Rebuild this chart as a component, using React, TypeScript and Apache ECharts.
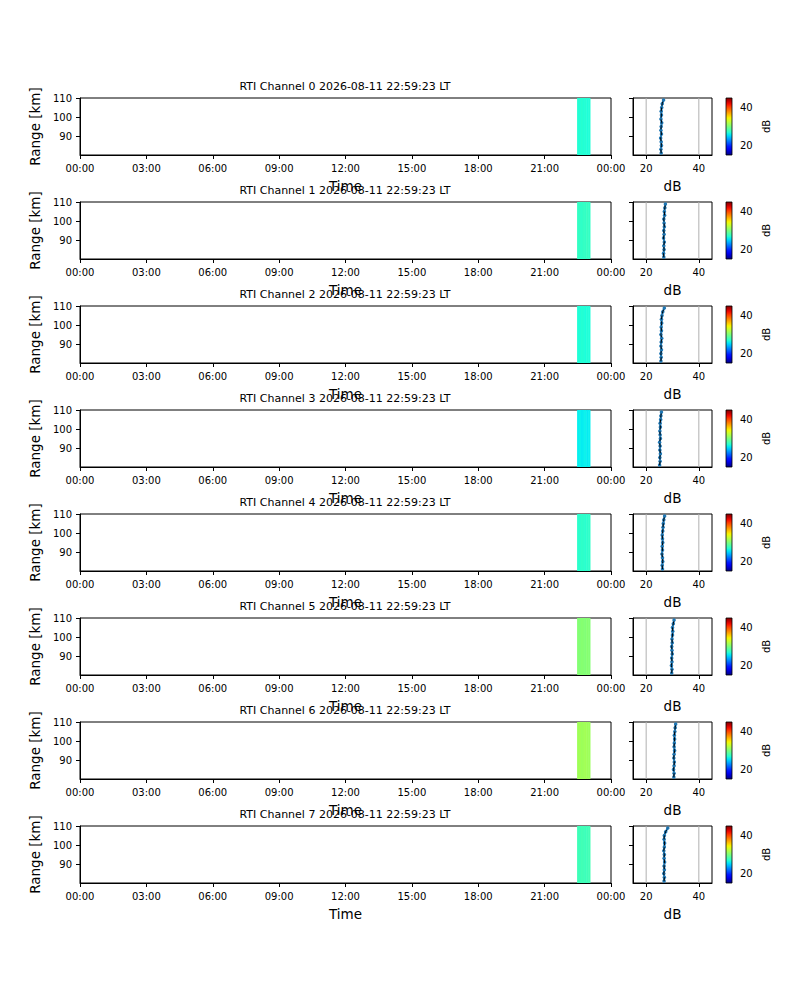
import React, { useEffect, useRef } from 'react';
import * as echarts from 'echarts';

// --- data ---
const channels = [0, 1, 2, 3, 4, 5, 6, 7];
const stamp = '2026-08-11 22:59:23 LT';

const timeTicks = [0, 3, 6, 9, 12, 15, 18, 21, 24];
const rangeTicks = [90, 100, 110];
const dbTicks = [20, 40];
const dbGrid = [20, 40];

// RTI columns (start time, 5 min each)
const timeCols = ['22:28', '22:33', '22:38', '22:43', '22:48', '22:53', '22:58'];
const binMinutes = 5;

const rti0 = [26.8, 26.7, 26.9, 26.7, 26.8, 26.6, 26.7];
const rti1 = [27.4, 27.3, 27.2, 27.4, 27.3, 27.5, 27.3];
const rti2 = [26.7, 26.6, 26.8, 26.7, 26.5, 26.7, 26.6];
const rti3 = [25.8, 25.9, 25.7, 25.8, 25.9, 25.7, 25.8];
const rti4 = [27.1, 27.0, 27.2, 27.1, 27.0, 27.1, 27.2];
const rti5 = [30.3, 30.2, 30.4, 30.3, 30.2, 30.4, 30.3];
const rti6 = [31.3, 31.4, 31.2, 31.3, 31.4, 31.3, 31.2];
const rti7 = [27.8, 27.7, 27.9, 27.8, 27.7, 27.8, 27.9];
const rtiAll = [rti0, rti1, rti2, rti3, rti4, rti5, rti6, rti7];

// side profiles (dB vs range)
const rangeKm = [81, 83, 85, 87, 89, 91, 93, 95, 97, 99, 101, 103, 105, 107, 109];
const profile0 = [25.7, 25.6, 25.8, 25.7, 25.5, 25.8, 25.6, 25.7, 25.9, 25.6, 25.8, 25.7, 25.9, 26.1, 26.6];
const profile1 = [26.7, 26.6, 26.8, 26.7, 26.9, 26.6, 26.8, 26.7, 26.9, 26.8, 26.7, 27.0, 26.9, 27.1, 27.3];
const profile2 = [25.6, 25.7, 25.6, 25.8, 25.6, 25.7, 25.9, 25.6, 25.8, 25.7, 25.9, 25.8, 26.0, 26.3, 26.9];
const profile3 = [25.1, 25.3, 25.2, 25.4, 25.2, 25.3, 25.1, 25.4, 25.3, 25.2, 25.4, 25.3, 25.5, 25.6, 25.8];
const profile4 = [26.2, 26.1, 26.3, 26.2, 26.0, 26.2, 26.1, 26.3, 26.2, 26.1, 26.3, 26.4, 26.5, 26.7, 27.0];
const profile5 = [29.7, 29.8, 29.6, 29.8, 29.7, 29.9, 29.8, 29.7, 29.9, 29.8, 30.0, 30.1, 30.0, 30.3, 30.6];
const profile6 = [30.5, 30.6, 30.4, 30.6, 30.7, 30.5, 30.6, 30.8, 30.6, 30.7, 30.8, 30.7, 30.9, 31.0, 31.2];
const profile7 = [26.8, 26.9, 26.7, 26.9, 26.8, 27.0, 26.8, 26.9, 26.7, 26.9, 27.0, 26.8, 26.9, 27.4, 28.2];
const profileAll = [profile0, profile1, profile2, profile3, profile4, profile5, profile6, profile7];

const DB_MIN = 15;
const DB_MAX = 45;

// matplotlib "jet"
const JET_R = [[0, 0], [0.35, 0], [0.66, 1], [0.89, 1], [1, 0.5]];
const JET_G = [[0, 0], [0.125, 0], [0.375, 1], [0.64, 1], [0.91, 0], [1, 0]];
const JET_B = [[0, 0.5], [0.11, 1], [0.34, 1], [0.65, 0], [1, 0]];
function seg(x: number, pts: number[][]) {
  for (let i = 1; i < pts.length; i++) {
    if (x <= pts[i][0]) {
      const [x0, y0] = pts[i - 1];
      const [x1, y1] = pts[i];
      return y0 + ((x - x0) / (x1 - x0)) * (y1 - y0);
    }
  }
  return pts[pts.length - 1][1];
}
function jet(x: number) {
  const t = Math.max(0, Math.min(1, x));
  const c = (v: number) => Math.round(v * 255);
  return `rgb(${c(seg(t, JET_R))},${c(seg(t, JET_G))},${c(seg(t, JET_B))})`;
}
const toHours = (s: string) => {
  const [h, m] = s.split(':').map(Number);
  return h + m / 60;
};
const fmtHour = (v: number) => String(v % 24).padStart(2, '0') + ':00';

const FONT = 'DejaVu Sans';

const App: React.FC = () => {
  const chartRef = useRef<HTMLDivElement>(null);

  useEffect(() => {
    if (!chartRef.current) return;
    const chart = echarts.init(chartRef.current, undefined, { renderer: 'svg' });

    const grid: any[] = [];
    const xAxis: any[] = [];
    const yAxis: any[] = [];
    const series: any[] = [];
    const graphic: any[] = [];

    const black = { color: '#000', width: 1 };
    const tickStyle = { show: true, inside: false, length: 4, lineStyle: black };
    const labelStyle = { color: '#000', fontSize: 10, fontFamily: FONT };
    const nameStyle = { color: '#000', fontSize: 13.5, fontFamily: FONT };

    const stops = Array.from({ length: 21 }, (_, i) => ({ offset: i / 20, color: jet(i / 20) }));

    channels.forEach((ch, k) => {
      const top = 98 + 104 * k;
      const gMain = 3 * k;
      const gProf = 3 * k + 1;
      const gBar = 3 * k + 2;

      grid.push(
        { left: 80, top, width: 531, height: 57, show: true, borderColor: '#000', borderWidth: 1, backgroundColor: 'transparent' },
        { left: 633, top, width: 79, height: 57, show: true, borderColor: '#000', borderWidth: 1, backgroundColor: 'transparent' },
        { left: 726, top, width: 6, height: 57, show: false }
      );

      xAxis.push(
        {
          gridIndex: gMain, type: 'value', min: 0, max: 24, interval: 3,
          axisLine: { lineStyle: black }, axisTick: tickStyle,
          axisLabel: { ...labelStyle, formatter: fmtHour, customValues: timeTicks, hideOverlap: false },
          splitLine: { show: false },
          name: 'Time', nameLocation: 'middle', nameGap: 24, nameTextStyle: nameStyle,
        },
        {
          gridIndex: gProf, type: 'value', min: DB_MIN, max: DB_MAX,
          axisLine: { lineStyle: black },
          axisTick: { ...tickStyle, customValues: dbTicks },
          axisLabel: { ...labelStyle, customValues: dbTicks },
          splitLine: { show: false },
          name: 'dB', nameLocation: 'middle', nameGap: 24, nameTextStyle: nameStyle,
        },
        { gridIndex: gBar, type: 'value', min: 0, max: 1, show: false }
      );

      yAxis.push(
        {
          gridIndex: gMain, type: 'value', min: 80, max: 110,
          axisLine: { lineStyle: black },
          axisTick: { ...tickStyle, customValues: rangeTicks },
          axisLabel: { ...labelStyle, customValues: rangeTicks },
          splitLine: { show: false },
          name: 'Range [km]', nameLocation: 'middle', nameGap: 36, nameTextStyle: nameStyle,
        },
        {
          gridIndex: gProf, type: 'value', min: 80, max: 110,
          axisLine: { lineStyle: black },
          axisTick: { ...tickStyle, customValues: rangeTicks },
          axisLabel: { show: false },
          splitLine: { show: false },
        },
        {
          gridIndex: gBar, type: 'value', position: 'right', min: DB_MIN, max: DB_MAX,
          axisLine: { show: false },
          axisTick: { ...tickStyle, customValues: dbTicks },
          axisLabel: { ...labelStyle, customValues: dbTicks },
          splitLine: { show: false },
          name: 'dB', nameLocation: 'middle', nameGap: 29, nameRotate: 90,
          nameTextStyle: { color: '#000', fontSize: 10, fontFamily: FONT },
        }
      );

      graphic.push({
        type: 'text', x: 345, y: top - 12,
        style: { text: `RTI Channel ${ch} ${stamp}`, fill: '#000', fontSize: 11, fontFamily: FONT, align: 'center', verticalAlign: 'middle' },
      });

      // RTI cells
      const rti = rtiAll[k];
      series.push({
        type: 'custom', xAxisIndex: gMain, yAxisIndex: gMain, clip: true, z: 2,
        data: timeCols.map((t, i) => [toHours(t), toHours(t) + binMinutes / 60, rti[i]]),
        renderItem: (params: any, api: any) => {
          const p0 = api.coord([api.value(0), 110]);
          const p1 = api.coord([api.value(1), 80]);
          const v = api.value(2);
          return {
            type: 'rect',
            shape: { x: p0[0], y: p0[1], width: p1[0] - p0[0] + 0.5, height: p1[1] - p0[1] },
            style: { fill: jet((v - DB_MIN) / (DB_MAX - DB_MIN)) },
          };
        },
      });

      // profile grid lines
      series.push({
        type: 'custom', xAxisIndex: gProf, yAxisIndex: gProf, z: 1, silent: true,
        data: dbGrid,
        renderItem: (params: any, api: any) => {
          const a = api.coord([api.value(0), 110]);
          const b = api.coord([api.value(0), 80]);
          return { type: 'line', shape: { x1: a[0], y1: a[1], x2: b[0], y2: b[1] }, style: { stroke: '#b0b0b0', lineWidth: 1 } };
        },
      });

      const prof = profileAll[k].map((v, i) => [v, rangeKm[i]]);
      series.push(
        {
          type: 'line', xAxisIndex: gProf, yAxisIndex: gProf, z: 3,
          data: prof, symbol: 'circle', symbolSize: 3.5, showSymbol: true,
          lineStyle: { color: '#1f77b4', width: 2 }, itemStyle: { color: '#1f77b4' },
        },
        {
          type: 'line', xAxisIndex: gProf, yAxisIndex: gProf, z: 4,
          data: prof, symbol: 'none',
          lineStyle: { color: '#000', width: 1, type: [4, 2] },
        }
      );

      // colorbar
      series.push({
        type: 'custom', xAxisIndex: gBar, yAxisIndex: gBar, silent: true,
        data: [[0, 1, DB_MIN, DB_MAX]],
        renderItem: (params: any, api: any) => {
          const a = api.coord([api.value(0), api.value(3)]);
          const b = api.coord([api.value(1), api.value(2)]);
          return {
            type: 'rect',
            shape: { x: a[0], y: a[1], width: b[0] - a[0], height: b[1] - a[1] },
            style: { fill: new echarts.graphic.LinearGradient(0, 1, 0, 0, stops), stroke: '#000', lineWidth: 0.8 },
          };
        },
      });
    });

    chart.setOption({
      animation: false,
      backgroundColor: '#fff',
      textStyle: { fontFamily: FONT },
      grid, xAxis, yAxis, series, graphic,
    });

    return () => chart.dispose();
  }, []);

  return (
    <div
      ref={chartRef}
      style={{ position: 'absolute', left: 0, top: 0, width: 800, height: 982 }}
    />
  );
};

export default App;
